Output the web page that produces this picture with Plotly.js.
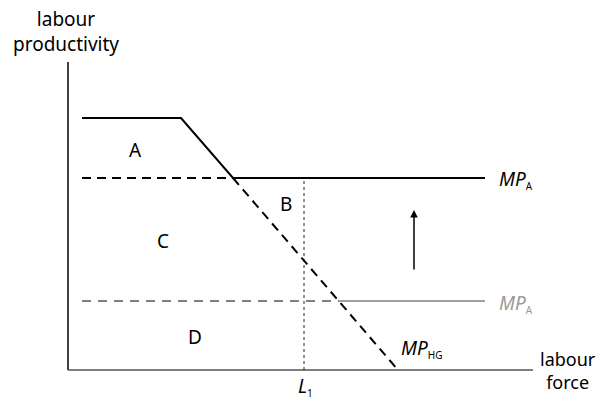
<!DOCTYPE html>
<html>
<head>
<meta charset="utf-8">
<script src="https://cdn.plot.ly/plotly-3.0.1.min.js"></script>
<style>
  html, body { margin: 0; padding: 0; background: #fff; }
  #grafico { width: 602px; height: 405px; }
</style>
</head>
<body>
<div id="grafico"></div>
<script>
// Diagrama: productividad del trabajo vs fuerza laboral (unidades arbitrarias)

// curva MP superior (sólida): tramo plano, caída y MP_A
const topX = [14, 113, 165, 417];
const topY = [252, 252, 192, 192];

// MP_A punteado hacia la izquierda
const mpaDashX = [14, 165];
const mpaDashY = [192, 192];

// MP_HG (diagonal discontinua)
const hgX = [165, 330];
const hgY = [192, 0];

// MP_A bajo (gris)
const lowDashX = [14, 271];
const lowSolidX = [271, 417];
const lowY = [69, 69];

// L1
const l1X = [236, 236];
const l1Y = [0, 192];

// flecha de desplazamiento
const arrowX = 346;
const arrowFrom = 99;
const arrowTo = 160;

// ejes
const axisYTop = 308;
const axisXEnd = 465;

// etiquetas de regiones
const regionLabels = ['A', 'B', 'C', 'D'];
const regionX = [67, 218, 95, 127];
const regionY = [220, 166, 129, 33];

const FONT = 'Noto Sans, Liberation Sans, sans-serif';

function linea(x, y, color, width, dash) {
    return {
        x: x, y: y, mode: 'lines', hoverinfo: 'skip',
        line: { color: color, width: width, dash: dash || 'solid' }
    };
}

// etiqueta MP con subíndice pequeño
function mp(sub) {
    return '<i>MP</i><sub><span style="font-size:10px">' + sub + '</span></sub>';
}

const traces = [
    linea([0, 0], [0, axisYTop], '#000', 1.5),
    linea([0, axisXEnd], [0, 0], '#555', 1.5),
    linea(lowDashX, lowY, '#808080', 2, '9px,7px'),
    linea(lowSolidX, lowY, '#808080', 1.5),
    linea(l1X, l1Y, '#222', 1, 'dot'),
    linea(mpaDashX, mpaDashY, '#000', 2, '9px,6px'),
    linea(hgX, hgY, '#000', 2, '9px,6px'),
    linea(topX, topY, '#000', 2)
];

const annotations = regionLabels.map((t, i) => ({
    x: regionX[i], y: regionY[i], text: t, showarrow: false,
    font: { size: 19, color: '#000', family: FONT }
}));

annotations.push(
    { x: 429, y: 191, text: mp('A'), xanchor: 'left', showarrow: false,
      font: { size: 19, color: '#000', family: FONT } },
    { x: 429, y: 67, text: mp('A'), xanchor: 'left', showarrow: false,
      font: { size: 19, color: '#999', family: FONT } },
    { x: 331, y: 22, text: mp('HG'), xanchor: 'left', showarrow: false,
      font: { size: 19, color: '#000', family: FONT } },
    { x: 237, y: -16, text: '<i>L</i><sub><span style="font-size:10px">1</span></sub>', showarrow: false,
      font: { size: 19, color: '#000', family: FONT } },
    { x: 500, y: 0, text: 'labour<br>force', showarrow: false,
      font: { size: 18, color: '#000', family: FONT } },
    { x: -2, y: 339, text: 'labour<br>productivity', showarrow: false,
      font: { size: 19, color: '#000', family: FONT } },
    { x: arrowX, y: arrowTo, ax: arrowX, ay: arrowFrom, axref: 'x', ayref: 'y',
      text: '', showarrow: true, arrowhead: 2, arrowsize: 1, arrowwidth: 1.5, arrowcolor: '#000' }
);

const layout = {
    width: 602, height: 405,
    margin: { l: 0, r: 0, t: 0, b: 0 },
    paper_bgcolor: '#fff', plot_bgcolor: '#fff',
    showlegend: false,
    xaxis: { range: [-68, 534], visible: false, fixedrange: true },
    yaxis: { range: [-35, 370], visible: false, fixedrange: true },
    annotations: annotations
};

Plotly.newPlot('grafico', traces, layout, { displayModeBar: false, staticPlot: true });
</script>
</body>
</html>
